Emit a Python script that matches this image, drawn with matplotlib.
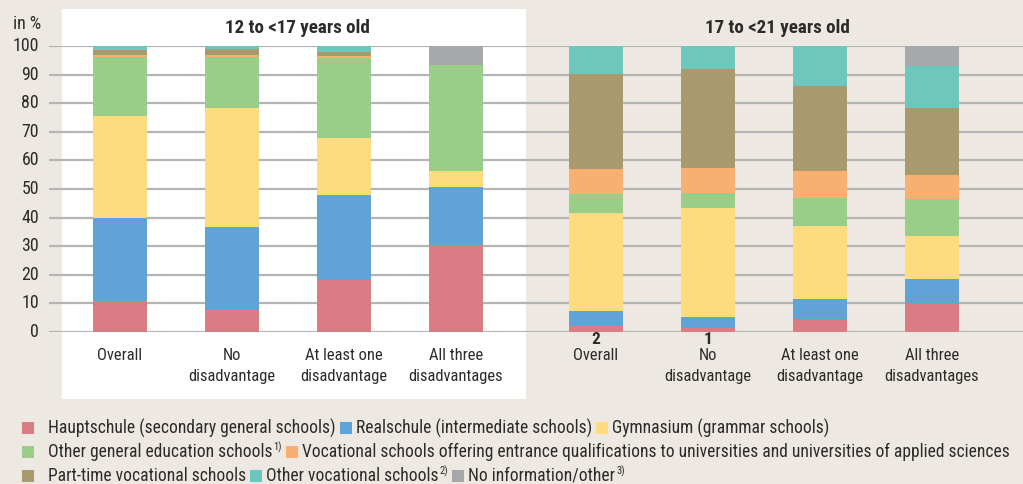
"""Stacked bars: school type attended by age group and number of disadvantages."""

import matplotlib
matplotlib.use("Agg")
import matplotlib.pyplot as plt
from matplotlib import font_manager as fm
from matplotlib.patches import Rectangle

# ---- data -------------------------------------------------------------
groups = ["12 to <17 years old", "17 to <21 years old"]
categories = [["Overall"], ["No", "disadvantage"],
              ["At least one", "disadvantage"], ["All three", "disadvantages"]]
rank_labels = ["", "", "", "", "2", "1", "", ""]

# 8 bars: 4 for 12 to <17, then 4 for 17 to <21 (in %)
hauptschule = [10.7, 7.7, 18.2, 30.4, 2.1, 1.4, 4.4, 10.1]
realschule = [29.1, 29.0, 29.7, 20.3, 5.2, 3.7, 7.1, 8.4]
gymnasium = [35.8, 41.7, 20.0, 5.6, 34.3, 38.2, 25.5, 15.0]
other_general = [20.7, 17.9, 28.1, 37.1, 6.6, 5.3, 9.8, 13.0]
vocational_entrance = [0.7, 0.7, 0.7, 0.0, 8.8, 8.8, 9.5, 8.4]
part_time = [1.7, 2.1, 1.3, 0.0, 33.3, 34.6, 29.8, 23.5]
other_vocational = [1.3, 0.9, 2.0, 0.0, 9.7, 8.0, 13.9, 14.7]
no_info = [0.0, 0.0, 0.0, 6.6, 0.0, 0.0, 0.0, 6.9]

series_labels = [
    ("Hauptschule (secondary general schools)", ""),
    ("Realschule (intermediate schools)", ""),
    ("Gymnasium (grammar schools)", ""),
    ("Other general education schools", "1)"),
    ("Vocational schools offering entrance qualifications to universities "
     "and universities of applied sciences", ""),
    ("Part-time vocational schools", ""),
    ("Other vocational schools", "2)"),
    ("No information/other", "3)"),
]
legend_rows = [[0, 1, 2], [3, 4], [5, 6, 7]]

yticks = list(range(0, 101, 10))

# ---- style ------------------------------------------------------------
colors = ["#D97C84", "#5FA3D7", "#FEDB7E", "#9ACD88",
          "#F9AF70", "#A99A6E", "#6DC7BC", "#A7A8AB"]
bg = "#EDE8E1"
grid_c = "#B4B4B4"
text_c = "#2B2B2B"

# prefer a narrow face, the original uses a condensed sans
_avail = {(f.name, f.stretch) for f in fm.fontManager.ttflist}
_names = {n for n, _ in _avail}
FAMILY, STRETCH = "DejaVu Sans", "normal"
for name, stretch in [("Liberation Sans Narrow", "normal"),
                      ("Roboto Condensed", "normal"),
                      ("Open Sans Condensed", "normal"),
                      ("Noto Sans Condensed", "normal"),
                      ("DejaVu Sans", "condensed"),
                      ("Roboto", "condensed"),
                      ("Noto Sans", "condensed")]:
    if (name, stretch) in _avail or (stretch == "normal" and name in _names):
        FAMILY, STRETCH = name, stretch
        break
plt.rcParams["font.family"] = [FAMILY, "DejaVu Sans"]
plt.rcParams["font.stretch"] = STRETCH

W, H, DPI = 1023, 484, 100


def fx(px):
    return px / W


def fy(py):
    return 1 - py / H


def fit_size(fig, r, s, width, weight="normal"):
    t = fig.text(0, 0, s, fontsize=10, fontweight=weight)
    w = t.get_window_extent(r).width
    t.remove()
    return 10 * width / w


def main():
    fig = plt.figure(figsize=(W / DPI, H / DPI), dpi=DPI, facecolor=bg)
    r = fig.canvas.get_renderer()

    # white panel behind the first age group
    fig.patches.append(Rectangle((fx(62), fy(399)), fx(526) - fx(62),
                                 fy(9) - fy(399), transform=fig.transFigure,
                                 facecolor="white", edgecolor="none",
                                 zorder=-5))

    ax = fig.add_axes([fx(49), fy(331.7), fx(1023) - fx(49),
                       fy(46.3) - fy(331.7)])
    ax.patch.set_alpha(0)
    for s in ax.spines.values():
        s.set_visible(False)

    xpos = [0, 1, 2, 3, 4.25, 5.25, 6.25, 7.25]
    series = [hauptschule, realschule, gymnasium, other_general,
              vocational_entrance, part_time, other_vocational, no_info]

    for t in yticks:
        ax.axhline(t, color=grid_c, lw=1.6, zorder=1)

    bottom = [0.0] * len(xpos)
    for vals, c in zip(series, colors):
        ax.bar(xpos, vals, bottom=bottom, width=0.482, color=c,
               edgecolor="none", zorder=2)
        bottom = [b + v for b, v in zip(bottom, vals)]

    ax.set_xlim(-0.634, 8.0625)
    ax.set_ylim(0, 100)
    ax.set_xticks([])
    ax.set_yticks([])

    # font sizes fitted to the widths measured on the original
    fs_tick = fit_size(fig, r, "100", 26)
    fs_cat = fit_size(fig, r, "disadvantages", 94)
    fs_title = fit_size(fig, r, groups[0], 146, "bold")
    fs_leg = fit_size(fig, r, series_labels[4][0], 1005 - 303)

    for t in yticks:
        py = ax.transData.transform((0, t))[1]
        fig.text(fx(39), py / H, str(t), fontsize=fs_tick, color=text_c,
                 ha="right", va="center")
    fig.text(fx(13), fy(24), "in %", fontsize=fs_tick, color=text_c,
             va="center", ha="left")

    # group titles
    fig.text(fx(297), fy(28), groups[0], fontsize=fs_title,
             fontweight="bold", color=text_c, ha="center", va="center")
    fig.text(fx(777), fy(28), groups[1], fontsize=fs_title,
             fontweight="bold", color=text_c, ha="center", va="center")

    # category labels below bars
    cats = categories + categories
    for x, lines, rk in zip(xpos, cats, rank_labels):
        px = ax.transData.transform((x, 0))[0]
        for k, line in enumerate(lines):
            fig.text(px / W, fy(356 + 21 * k), line, fontsize=fs_cat,
                     color=text_c, ha="center", va="center")
        if rk:
            fig.text(px / W, fy(340), rk, fontsize=fs_cat * 1.05,
                     fontweight="bold", color=text_c, ha="center",
                     va="center")

    # legend, flowing rows
    row_y = [428, 452, 476]
    for row, yy in zip(legend_rows, row_y):
        x = 22
        for n, i in enumerate(row):
            fig.patches.append(Rectangle((fx(x), fy(yy + 6)), fx(12), 12 / H,
                                         transform=fig.transFigure,
                                         facecolor=colors[i],
                                         edgecolor="none"))
            x += 26 if n == 0 else 16
            name, sup = series_labels[i]
            t = fig.text(fx(x), fy(yy), name, fontsize=fs_leg, color=text_c,
                         ha="left", va="center")
            x += t.get_window_extent(r).width
            if sup:
                t2 = fig.text(fx(x + 1), fy(yy - 5), sup,
                              fontsize=fs_leg * 0.6, color=text_c,
                              ha="left", va="center")
                x += t2.get_window_extent(r).width + 1
            x += 4

    fig.savefig("out.png", dpi=DPI, facecolor=bg)


if __name__ == "__main__":
    main()
